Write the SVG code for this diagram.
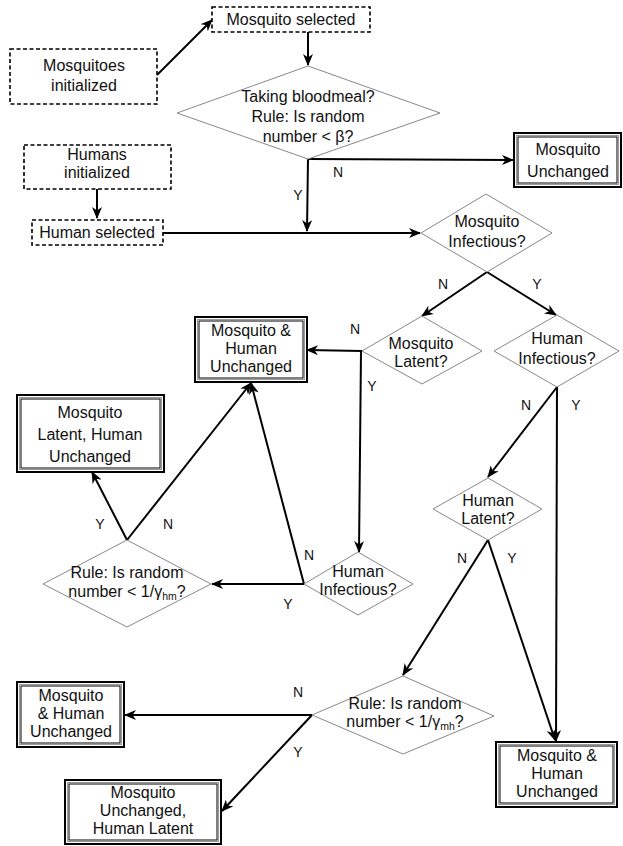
<svg xmlns="http://www.w3.org/2000/svg" width="623" height="846" viewBox="0 0 623 846">
<defs>
<marker id="ah" viewBox="0 0 12 10" refX="11" refY="5" markerWidth="12" markerHeight="10" orient="auto" markerUnits="userSpaceOnUse"><path d="M0,0 L12,5 L0,10 L3.5,5 z" fill="#000"/></marker>
<style>
.t{font-family:"Liberation Sans",Arial,sans-serif;font-size:16px;fill:#111;text-anchor:middle}
.lb{font-family:"Liberation Sans",Arial,sans-serif;font-size:14px;fill:#111;text-anchor:middle}
.dash{fill:#fff;stroke:#000;stroke-width:1.6;stroke-dasharray:4,2.5}
.dia{fill:#fff;stroke:#888;stroke-width:1}
.outer{fill:#fff;stroke:#000;stroke-width:2}
.mid{fill:none;stroke:#999;stroke-width:1}
.inner{fill:none;stroke:#000;stroke-width:1}
.c{fill:none;stroke:#000;stroke-width:2}
.a{marker-end:url(#ah)}
.sub{font-size:10.5px}
</style>
</defs>
<rect width="623" height="846" fill="#fff"/>

<g id="connectors">
<path class="c a" d="M157,75 L212,20"/>
<path class="c a" d="M308,32 L308,65"/>
<path class="c a" d="M97,189 L97,218"/>
<path class="c a" d="M308,159 L513,160"/>
<path class="c a" d="M308,159 L307,231"/>
<path class="c a" d="M163,233 L420,233"/>
<path class="c a" d="M487,272 L422,316"/>
<path class="c a" d="M487,272 L556,315"/>
<path class="c a" d="M362,351 L307,350"/>
<path class="c a" d="M361,351 L359,552"/>
<path class="c a" d="M304,584 L251,383"/>
<path class="c a" d="M304,584 L212,584"/>
<path class="c a" d="M127,540 L92,472"/>
<path class="c a" d="M127,540 L251,383"/>
<path class="c a" d="M557,387 L488,477"/>
<path class="c a" d="M557,387 L556,741"/>
<path class="c a" d="M488,540 L403,675"/>
<path class="c a" d="M488,540 L555,740"/>
<path class="c a" d="M312,715 L125,715"/>
<path class="c a" d="M312,715 L222,811"/>
<text class="lb" x="338" y="177">N</text>
<text class="lb" x="298" y="200">Y</text>
<text class="lb" x="443" y="289">N</text>
<text class="lb" x="537" y="289">Y</text>
<text class="lb" x="355" y="334">N</text>
<text class="lb" x="372" y="391">Y</text>
<text class="lb" x="526" y="410">N</text>
<text class="lb" x="576" y="410">Y</text>
<text class="lb" x="100" y="529">Y</text>
<text class="lb" x="168" y="529">N</text>
<text class="lb" x="309" y="560">N</text>
<text class="lb" x="288" y="609">Y</text>
<text class="lb" x="462" y="563">N</text>
<text class="lb" x="512" y="563">Y</text>
<text class="lb" x="298" y="697">N</text>
<text class="lb" x="298" y="757">Y</text>
</g>

<g id="mosquito-selected">
<rect class="dash" x="212" y="7" width="158" height="25"/>
<text class="t" x="291" y="25">Mosquito selected</text>
</g>
<g id="mosquitoes-initialized">
<rect class="dash" x="10" y="49" width="147" height="55"/>
<text class="t" x="84" y="71">Mosquitoes</text>
<text class="t" x="84" y="91">initialized</text>
</g>
<g id="humans-initialized">
<rect class="dash" x="24" y="145" width="147" height="44"/>
<text class="t" x="97" y="160">Humans</text>
<text class="t" x="97" y="178">initialized</text>
</g>
<g id="human-selected">
<rect class="dash" x="32" y="220" width="131" height="25"/>
<text class="t" x="97" y="238">Human selected</text>
</g>

<g id="taking-bloodmeal">
<polygon class="dia" points="308,66 440,113 308,159 177,113"/>
<text class="t" x="308" y="102">Taking bloodmeal?</text>
<text class="t" x="308" y="122">Rule: Is random</text>
<text class="t" x="308" y="142">number &lt; β?</text>
</g>

<g id="mosquito-unchanged">
<rect class="outer" x="514" y="133" width="107" height="54"/>
<rect class="mid" x="516.5" y="135.5" width="102" height="49"/>
<rect class="inner" x="518" y="137" width="99" height="46"/>
<text class="t" x="568" y="155">Mosquito</text>
<text class="t" x="568" y="177">Unchanged</text>
</g>

<g id="mosquito-infectious">
<polygon class="dia" points="486,194 552,233 487,272 421,233"/>
<text class="t" x="487" y="227">Mosquito</text>
<text class="t" x="487" y="247">Infectious?</text>
</g>

<g id="mosquito-latent">
<polygon class="dia" points="422,316 482,351 422,384 362,351"/>
<text class="t" x="421" y="349">Mosquito</text>
<text class="t" x="421" y="367">Latent?</text>
</g>

<g id="human-infectious-1">
<polygon class="dia" points="557,315 619,351 557,387 494,351"/>
<text class="t" x="557" y="344">Human</text>
<text class="t" x="557" y="364">Infectious?</text>
</g>

<g id="mh-unchanged-1">
<rect class="outer" x="195" y="317" width="112" height="65"/>
<rect class="mid" x="197.5" y="319.5" width="107" height="60"/>
<rect class="inner" x="199" y="321" width="104" height="57"/>
<text class="t" x="251" y="336">Mosquito &amp;</text>
<text class="t" x="251" y="354">Human</text>
<text class="t" x="251" y="372">Unchanged</text>
</g>

<g id="mosquito-latent-human-unchanged">
<rect class="outer" x="17" y="395" width="147" height="77"/>
<rect class="mid" x="19.5" y="397.5" width="142" height="72"/>
<rect class="inner" x="21" y="399" width="139" height="69"/>
<text class="t" x="90" y="418">Mosquito</text>
<text class="t" x="90" y="440">Latent, Human</text>
<text class="t" x="90" y="462">Unchanged</text>
</g>

<g id="human-infectious-2">
<polygon class="dia" points="358,552 413,584 358,615 304,584"/>
<text class="t" x="358" y="577">Human</text>
<text class="t" x="358" y="595">Infectious?</text>
</g>

<g id="rule-hm">
<polygon class="dia" points="127,540 211,584 127,627 43,584"/>
<text class="t" x="127" y="578">Rule: Is random</text>
<text class="t" x="127" y="597">number &lt; 1/γ<tspan class="sub" dy="3">hm</tspan><tspan dy="-3">?</tspan></text>
</g>

<g id="human-latent">
<polygon class="dia" points="488,478 542,509 488,540 433,509"/>
<text class="t" x="488" y="506">Human</text>
<text class="t" x="488" y="524">Latent?</text>
</g>

<g id="rule-mh">
<polygon class="dia" points="403,676 494,716 403,754 312,715"/>
<text class="t" x="405" y="709">Rule: Is random</text>
<text class="t" x="405" y="727">number &lt; 1/γ<tspan class="sub" dy="3">mh</tspan><tspan dy="-3">?</tspan></text>
</g>

<g id="mh-unchanged-2">
<rect class="outer" x="17" y="682" width="107" height="65"/>
<rect class="mid" x="19.5" y="684.5" width="102" height="60"/>
<rect class="inner" x="21" y="686" width="99" height="57"/>
<text class="t" x="71" y="701">Mosquito</text>
<text class="t" x="71" y="719">&amp; Human</text>
<text class="t" x="71" y="737">Unchanged</text>
</g>

<g id="mosquito-unchanged-human-latent">
<rect class="outer" x="65" y="780" width="156" height="64"/>
<rect class="mid" x="67.5" y="782.5" width="151" height="59"/>
<rect class="inner" x="69" y="784" width="148" height="56"/>
<text class="t" x="143" y="798">Mosquito</text>
<text class="t" x="143" y="816">Unchanged,</text>
<text class="t" x="143" y="834">Human Latent</text>
</g>

<g id="mh-unchanged-3">
<rect class="outer" x="496" y="742" width="121" height="65"/>
<rect class="mid" x="498.5" y="744.5" width="116" height="60"/>
<rect class="inner" x="500" y="746" width="113" height="57"/>
<text class="t" x="557" y="761">Mosquito &amp;</text>
<text class="t" x="557" y="779">Human</text>
<text class="t" x="557" y="797">Unchanged</text>
</g>
</svg>
